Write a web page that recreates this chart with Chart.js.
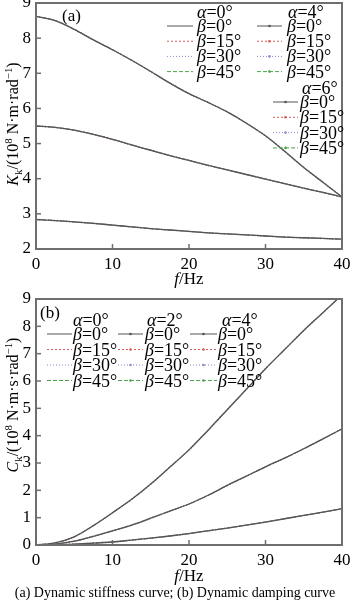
<!DOCTYPE html>
<html><head><meta charset="utf-8">
<script src="https://cdn.jsdelivr.net/npm/chart.js@4/dist/chart.umd.min.js"></script>
<style>
html,body{margin:0;padding:0;background:#fff;}
#wrap{position:relative;width:350px;height:604px;overflow:hidden;font-family:'Liberation Serif',serif;color:#000;}
canvas{position:absolute;left:0;top:0;}
.t{position:absolute;white-space:nowrap;line-height:1;font-size:18px;transform:translateY(-50%);}
.ytitle{position:absolute;white-space:nowrap;font-size:16px;line-height:1;transform:translate(-50%,-50%) rotate(-90deg);}
.c{position:absolute;white-space:nowrap;line-height:1;transform:translate(-50%,-50%);}
sup,sub{font-size:68%;line-height:0;}
</style></head><body>
<div id="wrap">
  <div style="position:absolute;left:0;top:0;width:350px;height:286px"><canvas id="c1" width="350" height="286"></canvas></div>
  <div style="position:absolute;left:0;top:286px;width:350px;height:294px"><canvas id="c2" width="350" height="294"></canvas></div>
</div>
<script>
// ---------- data ----------
const freq = [0,2.5,5,7.5,10,12.5,15,17.5,20,22.5,25,27.5,30,32.5,35,37.5,40];
const betaLabels = [0,15,30,45];
// (a) dynamic stiffness K_k (10^8 N·m/rad)
const stiffAlphaLabels = [0,4,6];
const K_alpha0 = [2.84,2.81,2.77,2.73,2.68,2.63,2.58,2.54,2.50,2.46,2.43,2.40,2.37,2.34,2.32,2.30,2.28];
const K_alpha4 = [5.50,5.46,5.38,5.26,5.12,4.96,4.81,4.66,4.52,4.38,4.25,4.12,3.99,3.86,3.73,3.61,3.48];
const K_alpha6 = [8.62,8.50,8.25,7.95,7.67,7.37,7.05,6.72,6.42,6.17,5.90,5.58,5.22,4.78,4.32,3.90,3.48];
// (b) dynamic damping C_k (10^8 N·m·s/rad)
const dampAlphaLabels = [0,2,4];
const C_alpha0 = [0,0.01,0.03,0.07,0.11,0.18,0.25,0.33,0.42,0.52,0.62,0.73,0.84,0.96,1.08,1.20,1.33];
const C_alpha2 = [0,0.03,0.14,0.32,0.52,0.73,0.98,1.24,1.50,1.82,2.18,2.52,2.86,3.18,3.52,3.88,4.25];
const C_alpha4 = [0,0.08,0.30,0.71,1.18,1.67,2.23,2.85,3.48,4.20,4.95,5.70,6.45,7.15,7.85,8.50,9.15];
const xTicks = [0,10,20,30,40];

// ---------- styles ----------
const betaStyle = [
  {color:'#555555', dash:[], width:1.3},
  {color:'#d85a5a', dash:[2,2], width:1},
  {color:'#8a8ad0', dash:[1,2], width:1.6},
  {color:'#4fa34f', dash:[4,2], width:1}
];
const FONT = "'Liberation Serif', serif";

function makeDatasets(seriesList){
  const ds = [];
  seriesList.forEach((vals)=>{
    betaLabels.forEach((b,bi)=>{
      const st = betaStyle[bi];
      ds.push({
        data: freq.map((f,i)=>({x:f,y:vals[i]})),
        borderColor: st.color, borderDash: st.dash, borderWidth: st.width,
        pointRadius:0, cubicInterpolationMode:'monotone', fill:false
      });
    });
  });
  return ds;
}

function framePlugin(legendGroups, canvasTop){
  return {
    id:'frame',
    afterDraw(chart){
      const {ctx, chartArea:a, scales:{x,y}} = chart;
      ctx.save();
      ctx.strokeStyle='#6e6e6e'; ctx.lineWidth=2;
      ctx.strokeRect(a.left, a.top, a.right-a.left, a.bottom-a.top);
      ctx.lineWidth=1.5;
      x.ticks.forEach(t=>{
        if(t.value<=x.min||t.value>=x.max) return;
        const px = x.getPixelForValue(t.value);
        ctx.beginPath(); ctx.moveTo(px,a.bottom); ctx.lineTo(px,a.bottom-5); ctx.stroke();
      });
      y.ticks.forEach(t=>{
        if(t.value<=y.min||t.value>=y.max) return;
        const py = y.getPixelForValue(t.value);
        ctx.beginPath(); ctx.moveTo(a.left,py); ctx.lineTo(a.left+5,py); ctx.stroke();
      });
      // legend line samples
      legendGroups.forEach(g=>{
        betaLabels.forEach((b,bi)=>{
          const st = betaStyle[bi];
          const yy = g.y0 + bi*g.dy - canvasTop;
          ctx.strokeStyle = st.color; ctx.lineWidth = 1; ctx.setLineDash(st.dash);
          ctx.beginPath(); ctx.moveTo(g.x1,yy); ctx.lineTo(g.x2,yy); ctx.stroke();
          ctx.setLineDash([]);
          if(g.marker){
            ctx.fillStyle = st.color;
            ctx.beginPath(); ctx.arc((g.x1+g.x2)/2, yy, 1.3, 0, Math.PI*2); ctx.fill();
          }
        });
      });
      ctx.restore();
    }
  };
}

function makeChart(id, seriesList, ymin, ymax, padTop, xAxisH, legendGroups, canvasTop){
  return new Chart(document.getElementById(id), {
    type:'line',
    data:{datasets: makeDatasets(seriesList)},
    options:{
      responsive:false, animation:false, devicePixelRatio:1,
      layout:{padding:{left:0,right:8,top:padTop,bottom:0}},
      plugins:{legend:{display:false}, tooltip:{enabled:false}},
      scales:{
        x:{type:'linear', min:0, max:40,
           afterBuildTicks(s){ s.ticks = xTicks.map(v=>({value:v})); },
           afterFit(s){ s.height = xAxisH; s.paddingLeft=0; s.paddingRight=0; },
           grid:{display:true, drawOnChartArea:false, drawTicks:false},
           border:{display:false},
           ticks:{color:'#000', font:{family:FONT, size:17}, padding:5, maxRotation:0, autoSkip:false}},
        y:{type:'linear', min:ymin, max:ymax,
           afterFit(s){ s.width = 36; s.paddingTop=0; s.paddingBottom=0; },
           grid:{display:true, drawOnChartArea:false, drawTicks:false},
           border:{display:false},
           ticks:{stepSize:1, color:'#000', font:{family:FONT, size:17}, padding:5, autoSkip:false}}
      }
    },
    plugins:[framePlugin(legendGroups, canvasTop)]
  });
}

const topGroups = [
  {alpha:stiffAlphaLabels[0], hx:197, hy:12, x1:167, x2:193, tx:197, y0:26, dy:15.2, marker:false},
  {alpha:stiffAlphaLabels[1], hx:288, hy:12, x1:257, x2:282, tx:287, y0:26, dy:15.2, marker:true},
  {alpha:stiffAlphaLabels[2], hx:302, hy:88, x1:273, x2:298, tx:300, y0:102, dy:15.3, marker:true}
];
const botGroups = [
  {alpha:dampAlphaLabels[0], hx:73, hy:320, x1:47, x2:72, tx:73, y0:334, dy:15.5, marker:false},
  {alpha:dampAlphaLabels[1], hx:147, hy:320, x1:118, x2:143, tx:145, y0:334, dy:15.5, marker:true},
  {alpha:dampAlphaLabels[2], hx:222, hy:320, x1:190, x2:217, tx:218, y0:334, dy:15.5, marker:true}
];

makeChart('c1', [K_alpha0, K_alpha4, K_alpha6], 2, 9, 3, 37, topGroups, 0);
makeChart('c2', [C_alpha0, C_alpha2, C_alpha4], 0, 9, 13, 35, botGroups, 286);

// ---------- text overlays ----------
const wrap = document.getElementById('wrap');
function addEl(cls, html, left, top, extra){
  const d = document.createElement('div');
  d.className = cls; d.innerHTML = html;
  d.style.left = left+'px'; d.style.top = top+'px';
  if(extra) Object.assign(d.style, extra);
  wrap.appendChild(d);
}
[topGroups, botGroups].forEach(gs=>gs.forEach(g=>{
  addEl('t', '<i>α</i>=' + g.alpha + '°', g.hx, g.hy);
  betaLabels.forEach((b,bi)=> addEl('t', '<i>β</i>=' + b + '°', g.tx, g.y0+bi*g.dy));
}));
addEl('t','(a)',62,15,{fontSize:'17px'});
addEl('t','(b)',40,312,{fontSize:'17px'});
addEl('ytitle','<i>K</i><sub>k</sub>/(10<sup>8</sup> N·m·rad<sup>−1</sup>)',13,124);
addEl('ytitle','<i>C</i><sub>k</sub>/(10<sup>8</sup> N·m·s·rad<sup>−1</sup>)',13,405);
addEl('c','<i>f</i>/Hz',189,278,{fontSize:'17px'});
addEl('c','<i>f</i>/Hz',189,575,{fontSize:'17px'});
addEl('c','(a) Dynamic stiffness curve; (b) Dynamic damping curve',175,593,{fontSize:'14px'});
</script>
</body></html>
